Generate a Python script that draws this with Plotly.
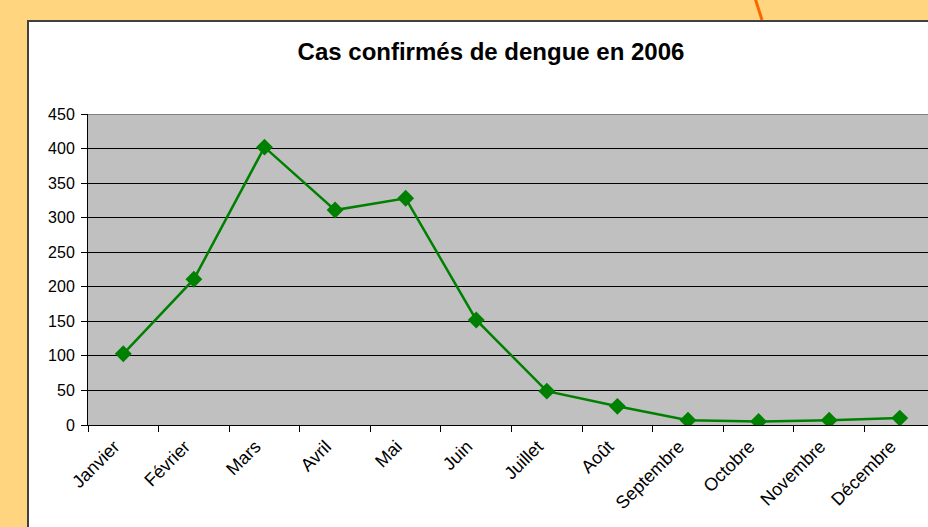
import plotly.graph_objects as go

months = ["Janvier", "Février", "Mars", "Avril", "Mai", "Juin", "Juillet",
          "Août", "Septembre", "Octobre", "Novembre", "Décembre"]
cases = [103, 211, 402, 311, 328, 152, 49, 27, 7, 5, 7, 10]
y_ticks = [0, 50, 100, 150, 200, 250, 300, 350, 400, 450]

W, H = 928, 527
L, R, T, B = 88, 0, 114, 102
pw, ph = W - L - R, H - T - B

def px(x):
    return (x - L) / pw

def py(y):
    return 1 + (T - y) / ph

fig = go.Figure()
fig.add_trace(go.Scatter(
    x=months, y=cases, mode="lines+markers",
    line=dict(color="#008000", width=2.5),
    marker=dict(symbol="diamond", size=13, color="#008000"),
    hoverinfo="skip"))

shapes = [
    dict(type="line", xref="paper", yref="paper", x0=px(755), y0=py(-2), x1=px(762), y1=py(20),
         line=dict(color="#FF6600", width=3), layer="below"),
    dict(type="rect", xref="paper", yref="paper", x0=px(28), y0=py(21), x1=px(960), y1=py(560),
         fillcolor="white", line=dict(color="#404040", width=2), layer="below"),
    dict(type="rect", xref="paper", yref="paper", x0=0, y0=0, x1=1, y1=1,
         fillcolor="#C0C0C0", line=dict(width=0), layer="below"),
    dict(type="line", xref="paper", yref="y", x0=0, x1=1, y0=450, y1=450,
         line=dict(color="#808080", width=2), layer="above"),
]

fig.update_layout(
    width=W, height=H,
    margin=dict(l=L, r=R, t=T, b=B, pad=0),
    paper_bgcolor="#FFD580",
    plot_bgcolor="#C0C0C0",
    showlegend=False,
    font=dict(family="Liberation Sans, Arial, sans-serif", color="black", size=16),
    title=dict(text="<b>Cas confirmés de dengue en 2006</b>", x=491 / W, xanchor="center",
               y=1 - 52 / H, yanchor="middle", font=dict(size=24, color="black")),
    shapes=shapes,
    xaxis=dict(
        type="category", categoryorder="array", categoryarray=months,
        range=[-0.5, 11.4], tickangle=-45, tickson="boundaries",
        ticks="outside", ticklen=6, tickcolor="black",
        ticklabelshift=-9, ticklabelstandoff=3,
        showgrid=False, showline=True, linecolor="black", linewidth=1,
        zeroline=False, tickfont=dict(size=18)),
    yaxis=dict(
        range=[0, 450], tickvals=y_ticks, ticks="outside", ticklen=6, tickcolor="black",
        ticklabelstandoff=3,
        showgrid=True, gridcolor="black", gridwidth=1,
        showline=True, linecolor="black", linewidth=1, zeroline=False,
        tickfont=dict(size=16)),
)

fig.write_html("out.html", config={"displayModeBar": False},
               post_script="document.body.style.margin='0';")
